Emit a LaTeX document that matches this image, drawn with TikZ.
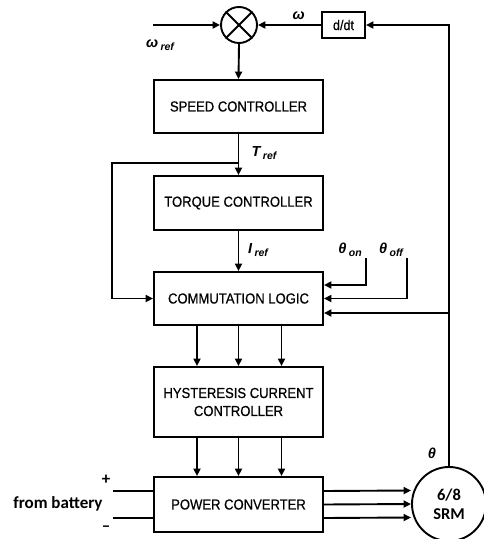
\documentclass[tikz,border=0pt]{standalone}
\usepackage{fontspec}
\setmainfont{Liberation Sans}
\newfontfamily\narrowf{Liberation Sans}[FakeStretch=0.9,FakeBold=0.6]
\newfontfamily\calib{Carlito}
\usetikzlibrary{arrows.meta}
\newcommand{\symb}[2]{{\fontsize{14.5bp}{16bp}\selectfont\bfseries\itshape #1\,\raisebox{-0.35ex}{\fontsize{10.5bp}{12bp}\selectfont #2}}}
\begin{document}
\begin{tikzpicture}[x=1bp,y=-1bp, line width=1.9bp, >={Triangle[length=7.5bp,width=7bp]},
  blk/.style={draw, minimum width=169bp, inner sep=0pt, align=center, font=\narrowf\fontsize{14.5bp}{18bp}\selectfont},
  lbl/.style={inner sep=0pt}]
\useasboundingbox (0,0) rectangle (484,539);
% blocks
\node[draw, circle, minimum size=36bp, inner sep=0pt] (sum) at (239,25) {};
\draw (sum.north west) -- (sum.south east) (sum.north east) -- (sum.south west);
\node[draw, minimum width=43bp, minimum height=26bp, inner sep=0pt, font=\narrowf\fontsize{14bp}{16bp}\selectfont] (dd) at (343.5,25) {d/dt};
\node[blk, minimum height=53bp] (sc) at (238.5,106.5) {SPEED CONTROLLER};
\node[blk, minimum height=54bp] (tc) at (238.5,203) {TORQUE CONTROLLER};
\node[blk, minimum height=53bp] (cl) at (238.5,298.5) {COMMUTATION LOGIC};
\node[blk, minimum height=70bp] (hy) at (238.5,402) {HYSTERESIS CURRENT\\CONTROLLER};
\node[blk, minimum height=55bp] (pc) at (238.5,504.5) {POWER CONVERTER};
\node[draw, circle, minimum size=74bp, inner sep=0pt, align=center, font=\calib\bfseries\fontsize{16.5bp}{19bp}\selectfont] (srm) at (449,504) {6/8\\SRM};
% coordinates
\coordinate (wr) at (153,25);
\coordinate (br) at (238.5,163);
\coordinate (brl) at (112,163);
\coordinate (brb) at (112,298.5);
\coordinate (thon) at (366,258);
\coordinate (thoff) at (407,258);
\coordinate (corner) at (449,25);
\coordinate (fb) at (449,313);
\coordinate (bp) at (113,491);
\coordinate (bm) at (113,518);
% connectors
\draw[->] (wr) -- (sum.west);
\draw[->] (dd.west) -- (sum.east);
\draw[->] (sum.south) -- (sc.north);
\draw[->] (sc.south) -- (tc.north);
\draw[->] (br) -- (brl) -- (brb) -- (cl.west);
\draw[->] (tc.south) -- (cl.north);
\draw[->] (thon) |- ([yshift=13.5bp]cl.east);
\draw[->] (thoff) |- (cl.east);
\draw[->] (srm.north) -- (corner) -- (dd.east);
\draw[->] (fb) -- ([yshift=-14.5bp]cl.east);
\foreach \dx in {-41.5,0,43} {
  \draw[->] ([xshift=\dx bp]cl.south) -- ([xshift=\dx bp]hy.north);
  \draw[->] ([xshift=\dx bp]hy.south) -- ([xshift=\dx bp]pc.north);
}
\draw (bp) -- ([yshift=13.5bp]pc.west);
\draw (bm) -- ([yshift=-13.5bp]pc.west);
\draw[->] ([yshift=13.5bp]pc.east) -- ([yshift=13.5bp]srm.west);
\draw[->] (pc.east) -- (srm.west);
\draw[->] ([yshift=-13.5bp]pc.east) -- ([yshift=-13.5bp]srm.west);
% labels
\node[lbl] (lwr) at (160,45) {\symb{ω}{ref}};
\node[lbl] (lw) at (300,17) {\symb{ω}{}};
\node[lbl] (ltr) at (264,153) {\symb{T}{ref}};
\node[lbl] (lir) at (258,250) {\symb{I}{ref}};
\node[lbl] (lon) at (350,250) {\symb{θ}{on}};
\node[lbl] (loff) at (391,250) {\symb{θ}{off}};
\node[lbl] (lth) at (433,455) {\symb{θ}{}};
\node[lbl, font=\calib\bfseries\fontsize{17bp}{19bp}\selectfont] (lplus) at (106,480) {+};
\node[lbl, font=\calib\bfseries\fontsize{17bp}{19bp}\selectfont] (lminus) at (106,529) {–};
\node[lbl, font=\calib\bfseries\fontsize{17bp}{19bp}\selectfont] (lbat) at (58,504) {from battery};
\end{tikzpicture}
\end{document}
